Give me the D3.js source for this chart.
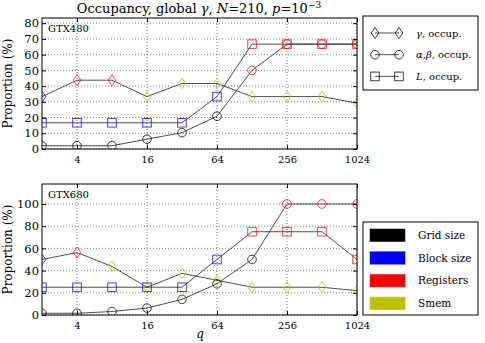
<!DOCTYPE html>
<html>
<head>
<meta charset="utf-8">
<script src="https://cdn.jsdelivr.net/npm/d3@7"></script>
<style>
  body { margin: 0; background: #fff; }
</style>
</head>
<body>
<svg width="485" height="343"></svg>
<script>
// q values (x axis, log2)
const qValues = [2, 4, 8, 16, 32, 64, 128, 256, 512, 1024];
const xTicks = [4, 16, 64, 256, 1024];

// limiting factor codes: G = grid size, B = block size, R = registers, S = smem
const factorNames = ['Grid size', 'Block size', 'Registers', 'Smem'];
const factorColors = {G: '#000000', B: '#0000ff', R: '#ff0000', S: '#bfbf00'};
const factorKeys = ['G', 'B', 'R', 'S'];

// GTX480
const gtx480Gamma = [33.33, 43.75, 43.75, 33.33, 41.67, 41.67, 33.33, 33.33, 33.33, 29.17];
const gtx480GammaLim = ['B', 'R', 'R', 'S', 'S', 'S', 'S', 'S', 'S', 'S'];
const gtx480AB = [2.08, 2.08, 2.08, 6.25, 10.42, 20.83, 50, 66.67, 66.67, 66.67];
const gtx480ABLim = ['G', 'G', 'G', 'G', 'G', 'G', 'R', 'R', 'R', 'R'];
const gtx480L = [16.67, 16.67, 16.67, 16.67, 16.67, 33.33, 66.67, 66.67, 66.67, 66.67];
const gtx480LLim = ['B', 'B', 'B', 'B', 'B', 'B', 'R', 'R', 'R', 'R'];

// GTX680
const gtx680Gamma = [50, 56.25, 43.75, 25, 37.5, 31.25, 25, 25, 25, 21.88];
const gtx680GammaLim = ['B', 'R', 'S', 'S', 'S', 'S', 'S', 'S', 'S', 'S'];
const gtx680AB = [1.56, 1.56, 3.13, 6.25, 14.06, 28.13, 50, 100, 100, 100];
const gtx680ABLim = ['G', 'G', 'G', 'G', 'G', 'G', 'G', 'R', 'R', 'R'];
const gtx680L = [25, 25, 25, 25, 25, 50, 75, 75, 75, 50];
const gtx680LLim = ['B', 'B', 'B', 'B', 'B', 'B', 'R', 'R', 'R', 'R'];

const FONT = '"DejaVu Serif"';
const svg = d3.select('svg');
const left = 42, right = 357;

const x = d3.scaleLog().base(2).domain([2, 1024]).range([left, right]);

// text helper so every label gets the serif font
function txt(g, size) {
    return g.append('text').style('font-family', FONT).style('font-size', size + 'px').attr('fill', '#000');
}

// marker shapes
function drawMarker(g, shape, cx, cy, color) {
    if (shape === 'diamond') {
        g.append('path')
            .attr('d', `M${cx},${cy - 5.5}L${cx + 3.8},${cy}L${cx},${cy + 5.5}L${cx - 3.8},${cy}Z`)
            .attr('fill', 'none').attr('stroke', color).attr('stroke-width', 1).attr('stroke-opacity', 0.75);
    } else if (shape === 'circle') {
        g.append('circle').attr('cx', cx).attr('cy', cy).attr('r', 4.3)
            .attr('fill', 'none').attr('stroke', color).attr('stroke-width', 1).attr('stroke-opacity', 0.75);
    } else {
        g.append('rect').attr('x', cx - 4.3).attr('y', cy - 4.3).attr('width', 8.6).attr('height', 8.6)
            .attr('fill', 'none').attr('stroke', color).attr('stroke-width', 1).attr('stroke-opacity', 0.75);
    }
}

function panel(id, top, bottom, yMax, yTicks, label, series) {
    const y = d3.scaleLinear().domain([0, yMax]).range([bottom, top]);
    const g = svg.append('g');

    g.append('clipPath').attr('id', id)
        .append('rect').attr('x', left).attr('y', top).attr('width', right - left).attr('height', bottom - top);

    // grid
    g.selectAll('.gx').data(xTicks).enter().append('line')
        .attr('x1', d => x(d)).attr('x2', d => x(d)).attr('y1', top).attr('y2', bottom)
        .attr('stroke', '#000').attr('stroke-width', 0.5).attr('stroke-dasharray', '1,2');
    g.selectAll('.gy').data(yTicks).enter().append('line')
        .attr('x1', left).attr('x2', right).attr('y1', d => y(d)).attr('y2', d => y(d))
        .attr('stroke', '#000').attr('stroke-width', 0.5).attr('stroke-dasharray', '1,2');

    // series
    const plot = g.append('g').attr('clip-path', `url(#${id})`);
    const line = d3.line().x((d, i) => x(qValues[i])).y(d => y(d));
    series.forEach(s => {
        plot.append('path').datum(s.values).attr('d', line)
            .attr('fill', 'none').attr('stroke', '#222').attr('stroke-width', 0.8);
    });
    series.forEach(s => {
        s.values.forEach((v, i) => drawMarker(plot, s.shape, x(qValues[i]), y(v), factorColors[s.lim[i]]));
    });

    // axes
    const xAxis = d3.axisBottom(x).tickValues(xTicks).tickFormat(d3.format('d')).tickSizeInner(-4).tickSizeOuter(0).tickPadding(7);
    const xa = g.append('g').attr('transform', `translate(0,${bottom})`).call(xAxis);
    const xTop = d3.axisTop(x).tickValues(xTicks).tickFormat('').tickSizeInner(-4).tickSizeOuter(0);
    const xt = g.append('g').attr('transform', `translate(0,${top})`).call(xTop);
    const yAxis = d3.axisLeft(y).tickValues(yTicks).tickSizeInner(-4).tickSizeOuter(0).tickPadding(3);
    const ya = g.append('g').attr('transform', `translate(${left},0)`).call(yAxis);
    const yRight = d3.axisRight(y).tickValues(yTicks).tickFormat('').tickSizeInner(-4).tickSizeOuter(0);
    const yr = g.append('g').attr('transform', `translate(${right},0)`).call(yRight);
    [xa, xt, ya, yr].forEach(a => {
        a.select('.domain').remove();
        a.selectAll('text').style('font-family', FONT).style('font-size', '10px').attr('fill', '#000');
    });
    ya.selectAll('text').style('font-size', '11.5px');

    g.append('rect').attr('x', left).attr('y', top).attr('width', right - left).attr('height', bottom - top)
        .attr('fill', 'none').attr('stroke', '#000').attr('stroke-width', 1);

    txt(g, 10).attr('x', left + 6).attr('y', top + 14).text(label);

    txt(g, 12)
        .attr('transform', `translate(12,${(top + bottom) / 2}) rotate(-90)`)
        .attr('text-anchor', 'middle').text('Proportion (%)');
}

panel('clip480', 18, 149, 83.3, [0, 10, 20, 30, 40, 50, 60, 70, 80], 'GTX480', [
    {values: gtx480Gamma, lim: gtx480GammaLim, shape: 'diamond'},
    {values: gtx480AB, lim: gtx480ABLim, shape: 'circle'},
    {values: gtx480L, lim: gtx480LLim, shape: 'square'}
]);
panel('clip680', 184, 315, 118, [0, 20, 40, 60, 80, 100], 'GTX680', [
    {values: gtx680Gamma, lim: gtx680GammaLim, shape: 'diamond'},
    {values: gtx680AB, lim: gtx680ABLim, shape: 'circle'},
    {values: gtx680L, lim: gtx680LLim, shape: 'square'}
]);

// title
const title = txt(svg, 13).attr('x', 199).attr('y', 13).attr('text-anchor', 'middle');
title.append('tspan').text('Occupancy, global ');
title.append('tspan').attr('font-style', 'italic').text('γ');
title.append('tspan').text(', ');
title.append('tspan').attr('font-style', 'italic').text('N');
title.append('tspan').text('=210, ');
title.append('tspan').attr('font-style', 'italic').text('p');
title.append('tspan').text('=10');
title.append('tspan').style('font-size', '9px').attr('dy', -5).text('−3');

// x label
txt(svg, 12).attr('x', 200).attr('y', 338).attr('text-anchor', 'middle')
    .attr('font-style', 'italic').text('q');

// marker legend
const mLeg = svg.append('g').attr('transform', 'translate(363,16)');
mLeg.append('rect').attr('width', 115).attr('height', 74).attr('fill', '#fff').attr('stroke', '#000').attr('stroke-width', 1);
const mItems = [
    {shape: 'diamond', parts: [['γ', true], [', occup.', false]]},
    {shape: 'circle', parts: [['α', true], [',', false], ['β', true], [', occup.', false]]},
    {shape: 'square', parts: [['L', true], [', occup.', false]]}
];
mItems.forEach((d, i) => {
    const cy = 17 + i * 21.7;
    const it = mLeg.append('g');
    it.append('line').attr('x1', 12).attr('x2', 36).attr('y1', cy).attr('y2', cy).attr('stroke', '#222').attr('stroke-width', 0.8);
    drawMarker(it, d.shape, 12, cy, '#000');
    drawMarker(it, d.shape, 36, cy, '#000');
    const t = txt(it, 10).attr('x', 53).attr('y', cy + 3.5);
    d.parts.forEach(p => t.append('tspan').attr('font-style', p[1] ? 'italic' : 'normal').text(p[0]));
});

// factor legend
const fLeg = svg.append('g').attr('transform', 'translate(363,222)');
fLeg.append('rect').attr('width', 115).attr('height', 93).attr('fill', '#fff').attr('stroke', '#000').attr('stroke-width', 1);
factorKeys.forEach((k, i) => {
    const cy = 13 + i * 22.7;
    fLeg.append('rect').attr('x', 7).attr('y', cy - 6).attr('width', 35).attr('height', 12.5)
        .attr('fill', factorColors[k]).attr('stroke', factorColors[k]).attr('stroke-opacity', 0.5);
    txt(fLeg, 10.5).attr('x', 55).attr('y', cy + 4).text(factorNames[i]);
});
</script>
</body>
</html>
